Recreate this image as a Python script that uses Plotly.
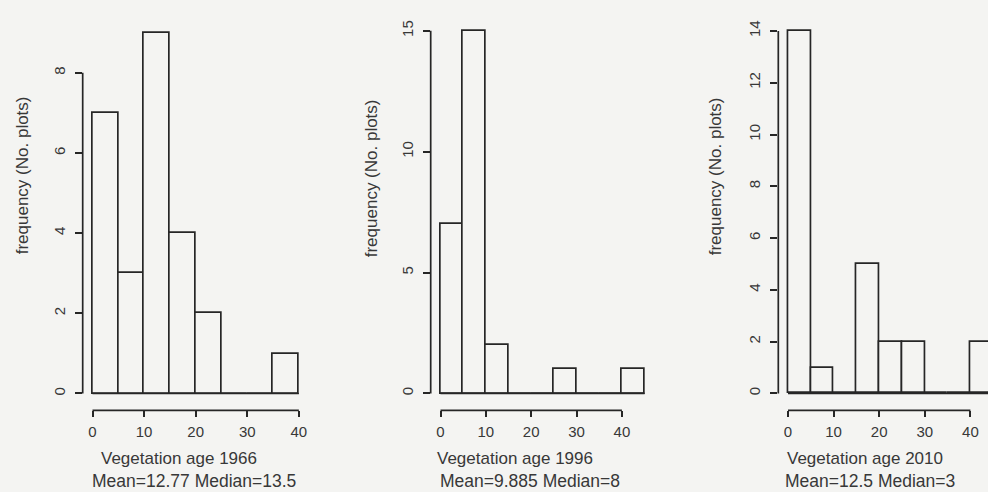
import plotly.graph_objects as go

# ---- data ----
bin_width = 5
edges_1966 = [0, 5, 10, 15, 20, 25, 30, 35, 40]
counts_1966 = [7, 3, 9, 4, 2, 0, 0, 1]
edges_1996 = [0, 5, 10, 15, 20, 25, 30, 35, 40, 45]
counts_1996 = [7, 15, 2, 0, 0, 1, 0, 0, 1]
edges_2010 = [0, 5, 10, 15, 20, 25, 30, 35, 40, 45]
counts_2010 = [14, 1, 0, 5, 2, 2, 0, 0, 2]

x_ticks = [0, 10, 20, 30, 40]
y_ticks_1966 = [0, 2, 4, 6, 8]
y_ticks_1996 = [0, 5, 10, 15]
y_ticks_2010 = [0, 2, 4, 6, 8, 10, 12, 14]

xlabels = ["Vegetation age 1966", "Vegetation age 1996", "Vegetation age 2010"]
stats = ["Mean=12.77 Median=13.5", "Mean=9.885 Median=8", "Mean=12.5 Median=3"]
ylabel = "frequency (No. plots)"

# ---- style / layout ----
W, H = 988, 492
BG = "#f4f4f2"
LINE = "#262626"
TXT = "#383838"
FONT = "Liberation Sans, Arial, sans-serif"
LW = 1.7

panels = [
    dict(edges=edges_1966, counts=counts_1966, yt=y_ticks_1966,
         xdom=[82.7, 320], xr=[-1.9, 44.1], yr=[-0.42, 9.27],
         xl_c=179, st_c=194, yl_x=22, yl_y=174),
    dict(edges=edges_1996, counts=counts_1996, yt=y_ticks_1996,
         xdom=[430.7, 660], xr=[-2.16, 48.4], yr=[-0.70, 15.37],
         xl_c=515, st_c=530, yl_x=371, yl_y=177),
    dict(edges=edges_2010, counts=counts_2010, yt=y_ticks_2010,
         xdom=[778.3, 988], xr=[-2.13, 43.86], yr=[-0.654, 14.35],
         xl_c=865, st_c=870, yl_x=715, yl_y=175),
]

ydom = [1 - 410 / H, 1 - 20 / H]

fig = go.Figure()
shapes = []
annotations = []
layout = {}

for i, p in enumerate(panels, start=1):
    sfx = "" if i == 1 else str(i)
    xa, ya = "x" + sfx, "y" + sfx
    centers = [e + bin_width / 2 for e in p["edges"][:-1]]
    fig.add_trace(go.Bar(
        x=centers, y=p["counts"], width=bin_width,
        marker=dict(color=BG, line=dict(color=LINE, width=LW)),
        xaxis=xa, yaxis=ya, showlegend=False, hoverinfo="x+y",
    ))
    layout["xaxis" + sfx] = dict(
        domain=[p["xdom"][0] / W, p["xdom"][1] / W], range=p["xr"],
        anchor=ya, tickvals=x_ticks, ticktext=[str(t) for t in x_ticks],
        ticks="outside", ticklen=6, tickwidth=LW, tickcolor=LINE,
        showline=False, showgrid=False, zeroline=False,
        tickfont=dict(size=15, color=TXT, family=FONT), ticklabelstandoff=2,
    )
    layout["yaxis" + sfx] = dict(
        domain=ydom, range=p["yr"], anchor=xa,
        tickvals=p["yt"], ticktext=[str(t) for t in p["yt"]], tickangle=-90,
        ticks="outside", ticklen=7, tickwidth=LW, tickcolor=LINE,
        showline=False, showgrid=False, zeroline=False,
        tickfont=dict(size=15, color=TXT, family=FONT), ticklabelstandoff=4,
    )
    # R-style axis lines spanning first..last tick
    shapes.append(dict(type="line", xref=xa + " domain", yref=ya,
                       x0=0, x1=0, y0=p["yt"][0], y1=p["yt"][-1],
                       line=dict(color=LINE, width=LW)))
    shapes.append(dict(type="line", xref=xa, yref=ya + " domain",
                       x0=x_ticks[0], x1=x_ticks[-1], y0=0, y1=0,
                       line=dict(color=LINE, width=LW)))
    # histogram baseline (zero-count bins)
    shapes.append(dict(type="line", xref=xa, yref=ya,
                       x0=p["edges"][0], x1=p["edges"][-1], y0=0, y1=0,
                       line=dict(color=LINE, width=LW)))
    annotations.append(dict(text=xlabels[i - 1], xref="paper", yref="paper",
                            x=p["xl_c"] / W, y=1 - 458 / H, showarrow=False,
                            xanchor="center", yanchor="middle",
                            font=dict(size=17, color=TXT, family=FONT)))
    annotations.append(dict(text=stats[i - 1], xref="paper", yref="paper",
                            x=p["st_c"] / W, y=1 - 481 / H, showarrow=False,
                            xanchor="center", yanchor="middle",
                            font=dict(size=17.5, color=TXT, family=FONT)))
    annotations.append(dict(text=ylabel, xref="paper", yref="paper",
                            x=p["yl_x"] / W, y=1 - p["yl_y"] / H, showarrow=False,
                            textangle=-90, xanchor="center", yanchor="middle",
                            font=dict(size=17, color=TXT, family=FONT)))

fig.update_layout(
    width=W, height=H, margin=dict(l=0, r=0, t=0, b=0),
    paper_bgcolor=BG, plot_bgcolor=BG, bargap=0,
    shapes=shapes, annotations=annotations, **layout,
)

fig.write_html("out.html")
